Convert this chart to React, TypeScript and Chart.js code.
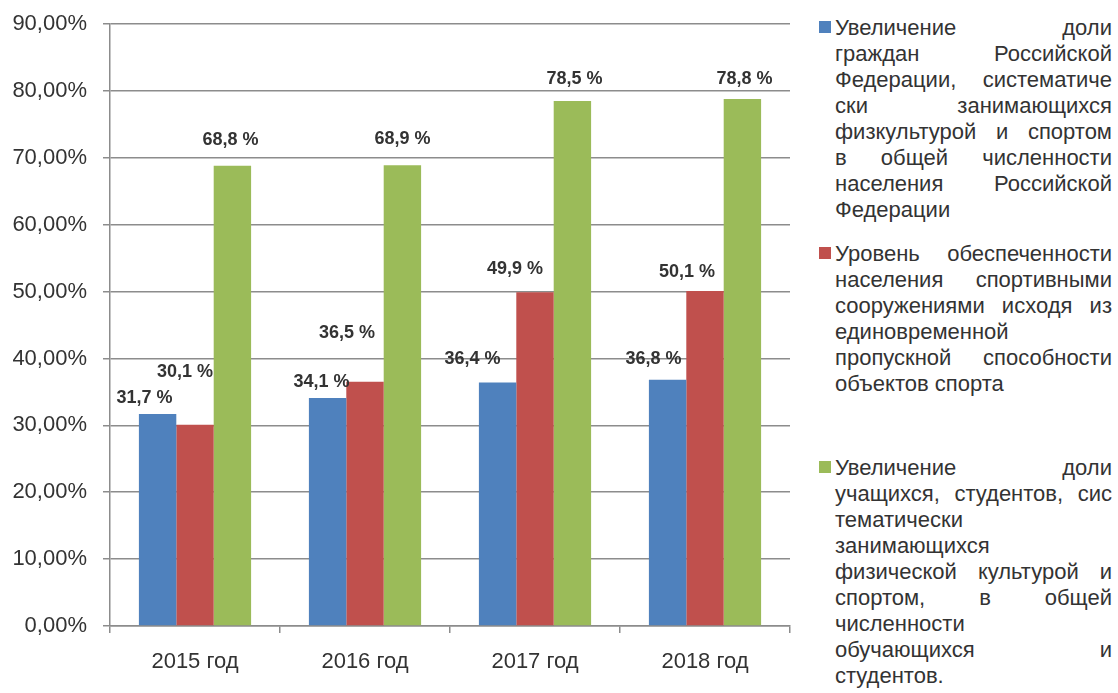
import React, { useEffect, useRef } from 'react';
import { Chart, registerables } from 'chart.js';

Chart.register(...registerables);

// ---- data ----
const CATEGORIES = ['2015 год', '2016 год', '2017 год', '2018 год'];
const SERIES_NAMES = [
  'Увеличение доли граждан Российской Федерации, систематически занимающихся физкультурой и спортом в общей численности населения Российской Федерации',
  'Уровень обеспеченности населения спортивными сооружениями исходя из единовременной пропускной способности объектов спорта',
  'Увеличение доли учащихся, студентов, систематически занимающихся физической культурой и спортом, в общей численности обучающихся и студентов.',
];
const SERIES_CITIZENS = [31.7, 34.1, 36.4, 36.8];
const SERIES_FACILITIES = [30.1, 36.5, 49.9, 50.1];
const SERIES_STUDENTS = [68.8, 68.9, 78.5, 78.8];
const Y_TICKS = [0, 10, 20, 30, 40, 50, 60, 70, 80, 90];

// legend text lines as laid out in the reference (text, justified?)
const LEGEND_LINES_1: [string, boolean][] = [
  ['Увеличение доли', true],
  ['граждан Российской', true],
  ['Федерации, систематиче', true],
  ['ски занимающихся', true],
  ['физкультурой и спортом', true],
  ['в общей численности', true],
  ['населения Российской', true],
  ['Федерации', false],
];
const LEGEND_LINES_2: [string, boolean][] = [
  ['Уровень обеспеченности', true],
  ['населения спортивными', true],
  ['сооружениями исходя из', true],
  ['единовременной', false],
  ['пропускной способности', true],
  ['объектов спорта', false],
];
const LEGEND_LINES_3: [string, boolean][] = [
  ['Увеличение доли', true],
  ['учащихся, студентов, сис', true],
  ['тематически', false],
  ['занимающихся', false],
  ['физической культурой и', true],
  ['спортом, в общей', true],
  ['численности', false],
  ['обучающихся и', true],
  ['студентов.', false],
];

// ---- style ----
const COLORS = ['#4F81BD', '#C0504D', '#9BBB59'];
const FONT = '"Liberation Sans", Arial, sans-serif';
const TEXT = '#333333';
const GRID = '#8c8c8c';
// label offsets (px) relative to bar top-centre, as placed in the reference
const LABEL_OFFSETS = [
  [[-13, -16], [-6, -16], [-25, -23], [-14, -21]],
  [[-10, -53], [-18, -49], [-20, -23], [-18, -19]],
  [[-2, -26], [0, -26], [2, -22], [2, -20]],
];
const LEGEND_TOPS = [15, 241, 455];

const fmtLabel = (v: number) => v.toFixed(1).replace('.', ',') + ' %';
const fmtTick = (v: number) => v.toFixed(2).replace('.', ',') + '%';

const labelPlugin = {
  id: 'barValueLabels',
  afterDatasetsDraw(chart: any) {
    const ctx = chart.ctx;
    ctx.save();
    ctx.font = `bold 18px ${FONT}`;
    ctx.fillStyle = TEXT;
    ctx.textAlign = 'center';
    ctx.textBaseline = 'middle';
    chart.data.datasets.forEach((ds: any, i: number) => {
      const meta = chart.getDatasetMeta(i);
      meta.data.forEach((bar: any, j: number) => {
        const [dx, dy] = LABEL_OFFSETS[i][j];
        ctx.fillText(fmtLabel(ds.data[j]), bar.x + dx, bar.y + dy);
      });
    });
    ctx.restore();
  },
};

function Legend() {
  const groups = [LEGEND_LINES_1, LEGEND_LINES_2, LEGEND_LINES_3];
  return (
    <>
      {groups.map((lines, gi) => (
        <div
          key={gi}
          style={{ position: 'absolute', left: 818, top: LEGEND_TOPS[gi], width: 295 }}
          title={SERIES_NAMES[gi]}
        >
          <div
            style={{
              position: 'absolute',
              left: 1,
              top: 6,
              width: 12,
              height: 12,
              background: COLORS[gi],
            }}
          />
          <div
            style={{
              position: 'absolute',
              left: 17,
              top: 0,
              width: 277,
              fontFamily: FONT,
              fontSize: 22,
              lineHeight: '26px',
              color: TEXT,
            }}
          >
            {lines.map(([t, j], li) => (
              <div
                key={li}
                style={{
                  textAlign: j ? 'justify' : 'left',
                  textAlignLast: j ? 'justify' : 'left',
                } as any}
              >
                {t}
              </div>
            ))}
          </div>
        </div>
      ))}
    </>
  );
}

export default function App() {
  const ref = useRef<HTMLCanvasElement>(null);

  useEffect(() => {
    if (!ref.current) return;
    const chart = new Chart(ref.current, {
      type: 'bar',
      data: {
        labels: CATEGORIES,
        datasets: [
          { label: SERIES_NAMES[0], data: SERIES_CITIZENS, backgroundColor: COLORS[0] },
          { label: SERIES_NAMES[1], data: SERIES_FACILITIES, backgroundColor: COLORS[1] },
          { label: SERIES_NAMES[2], data: SERIES_STUDENTS, backgroundColor: COLORS[2] },
        ],
      },
      options: {
        responsive: false,
        animation: false,
        devicePixelRatio: 1,
        layout: { padding: { top: 24, right: 10, left: 0, bottom: 0 } },
        datasets: { bar: { categoryPercentage: 0.66, barPercentage: 1, borderWidth: 0 } },
        plugins: {
          legend: { display: false },
          tooltip: { enabled: false },
          title: { display: false },
        },
        scales: {
          x: {
            offset: true,
            grid: {
              offset: true,
              drawOnChartArea: false,
              drawTicks: true,
              tickLength: 7,
              color: GRID,
              lineWidth: 1.5,
            },
            border: { display: true, color: GRID, width: 1.5 },
            ticks: {
              color: TEXT,
              font: { family: FONT, size: 22 },
              padding: 16,
              maxRotation: 0,
            },
            afterFit: (scale: any) => {
              scale.height = 67;
              scale.paddingLeft = 0;
              scale.paddingRight = 0;
            },
          },
          y: {
            min: 0,
            max: 90,
            afterBuildTicks: (scale: any) => {
              scale.ticks = Y_TICKS.map((v) => ({ value: v }));
            },
            grid: {
              drawOnChartArea: true,
              drawTicks: true,
              tickLength: 7,
              color: GRID,
              lineWidth: 1.5,
            },
            border: { display: true, color: GRID, width: 1.5 },
            ticks: {
              color: TEXT,
              font: { family: FONT, size: 22 },
              padding: 16,
              callback: (v: any) => fmtTick(Number(v)),
            },
            afterFit: (scale: any) => {
              scale.width = 110;
              scale.paddingTop = 0;
              scale.paddingBottom = 0;
            },
          },
        },
      },
      plugins: [labelPlugin],
    });
    return () => chart.destroy();
  }, []);

  return (
    <div
      style={{
        position: 'absolute',
        left: 0,
        top: 0,
        width: 1118,
        height: 693,
        background: '#ffffff',
        overflow: 'hidden',
      }}
    >
      <canvas
        ref={ref}
        width={800}
        height={693}
        style={{ position: 'absolute', left: 0, top: 0, width: 800, height: 693 }}
      />
      <Legend />
    </div>
  );
}
